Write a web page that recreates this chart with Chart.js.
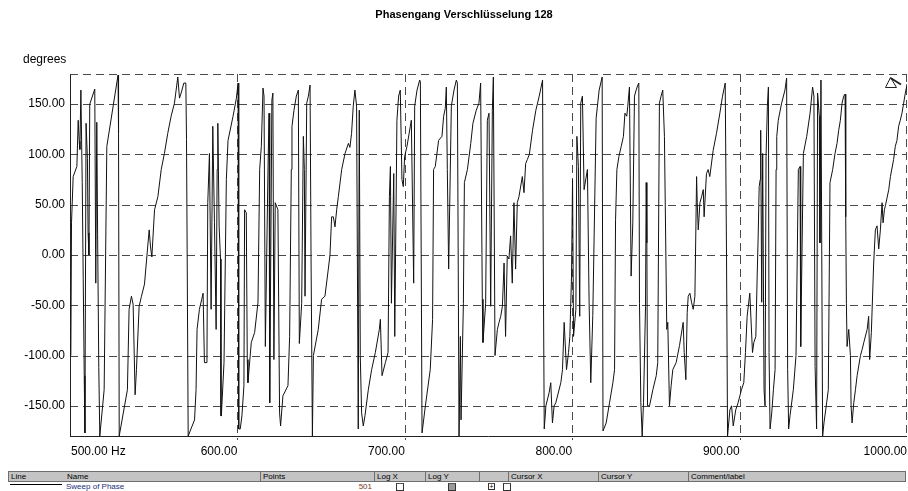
<!DOCTYPE html>
<html>
<head>
<meta charset="utf-8">
<script src="https://cdn.jsdelivr.net/npm/chart.js@4/dist/chart.umd.min.js"></script>
<style>
  html, body { margin: 0; padding: 0; background: #fff; }
  #wrap { position: relative; width: 908px; height: 491px; overflow: hidden; font-family: "Liberation Sans", Arial, sans-serif; }
  #chart { position: absolute; left: 0; top: 0; }
  .hd { position: absolute; top: 471px; height: 9px; background: #c4c4c4; border: 1px solid #6e6e6e; border-left-width: 0; font-size: 8px; line-height: 9px; color: #000; padding-left: 2px; box-sizing: content-box; }
  .row { position: absolute; font-size: 8px; line-height: 9px; }
  .cb { position: absolute; top: 483px; width: 6px; height: 6px; border: 1px solid #333; border-top-color: #555; background: #fff; }
</style>
</head>
<body>
<div id="wrap">
  <canvas id="chart" width="908" height="468"></canvas>
</div>
<script>
// Sweep of Phase: frequency (Hz) and phase (degrees), 500 to 1000 Hz
const freqHz = [
  500.5, 500.9, 501.9, 504.1, 504.9, 505.5, 505.9, 506.5, 507.3, 507.9, 508.5, 508.9, 509.6, 510.4, 510.8, 511.3,
  511.8, 514.8, 515.4, 516.0, 516.5, 517.2, 517.8, 520.4, 522.0, 528.7, 529.0, 529.4, 534.3, 535.3, 536.7, 537.7,
  538.9, 539.7, 541.3, 542.7, 544.5, 546.1, 547.3, 548.1, 548.9, 550.5, 552.5, 554.5, 556.4, 558.4, 560.4, 562.4,
  564.4, 565.4, 566.4, 568.0, 569.2, 569.6, 570.0, 570.6, 574.4, 575.3, 575.9, 577.3, 578.7, 579.5, 580.3, 581.8,
  582.3, 583.3, 584.3, 585.3, 586.3, 587.3, 587.9, 588.3, 589.1, 589.9, 590.2, 590.4, 592.0, 593.4, 594.4, 597.4,
  599.4, 600.4, 600.8, 601.7, 602.7, 603.9, 604.3, 605.3, 605.9, 606.3, 608.3, 610.3, 612.3, 613.3, 614.3, 615.3,
  615.9, 616.7, 618.3, 618.9, 619.3, 620.6, 621.2, 621.8, 622.6, 624.2, 625.2, 625.8, 627.2, 630.2, 631.2, 632.2,
  632.6, 633.8, 635.2, 636.4, 637.0, 638.4, 639.4, 640.0, 640.4, 641.4, 642.4, 643.4, 644.0, 644.8, 645.4, 648.3,
  650.3, 652.3, 654.3, 655.3, 656.3, 657.3, 658.3, 659.3, 660.3, 662.3, 664.3, 666.3, 667.2, 668.2, 669.2, 670.2,
  671.2, 672.2, 672.8, 673.4, 674.2, 675.2, 676.2, 678.2, 680.2, 682.4, 684.8, 685.4, 686.4, 688.4, 690.0, 690.8,
  691.4, 692.0, 693.4, 694.0, 695.3, 696.3, 697.3, 698.3, 699.1, 699.9, 701.3, 703.3, 703.9, 705.3, 705.9, 707.3,
  708.9, 709.3, 710.3, 712.3, 715.2, 716.6, 717.2, 718.2, 720.2, 722.2, 723.2, 724.2, 724.8, 725.4, 726.2, 727.8,
  728.4, 729.4, 730.8, 731.4, 732.4, 733.2, 733.6, 735.0, 735.6, 737.4, 739.4, 740.7, 742.7, 744.3, 745.3, 746.3,
  746.7, 748.3, 749.3, 750.3, 751.3, 752.3, 752.9, 753.9, 755.3, 756.3, 757.3, 758.3, 759.3, 760.2, 761.2, 762.2,
  763.2, 764.2, 765.2, 766.2, 767.2, 768.2, 770.2, 771.2, 772.2, 773.2, 774.4, 776.3, 778.3, 780.3, 782.3, 782.7,
  783.3, 784.3, 786.2, 787.2, 788.2, 789.2, 790.2, 793.2, 794.2, 795.2, 796.6, 797.8, 798.6, 799.6, 800.2, 800.8,
  802.2, 802.8, 803.7, 804.5, 805.1, 806.1, 807.1, 809.1, 810.1, 811.1, 812.3, 814.3, 816.1, 817.9, 818.4, 820.3,
  822.3, 824.3, 825.3, 825.9, 826.7, 827.9, 829.3, 830.6, 831.5, 832.6, 833.2, 834.2, 835.2, 836.2, 837.2, 838.2,
  839.2, 839.8, 840.2, 841.0, 841.8, 842.6, 843.8, 844.2, 844.6, 845.0, 846.2, 848.2, 850.2, 851.1, 852.1, 853.1,
  854.1, 855.1, 856.5, 857.1, 858.1, 859.1, 860.1, 862.1, 864.1, 866.3, 866.9, 867.9, 868.7, 869.3, 870.3, 871.3,
  872.3, 873.3, 873.9, 874.3, 874.7, 875.3, 876.3, 877.3, 878.3, 878.8, 880.2, 881.2, 882.2, 884.2, 886.2, 888.2,
  889.8, 891.4, 892.2, 892.8, 894.2, 895.2, 896.2, 897.7, 899.1, 901.1, 902.5, 903.5, 904.5, 906.1, 907.7, 908.5,
  909.7, 910.5, 911.1, 911.7, 912.3, 912.6, 913.2, 913.8, 914.6, 915.2, 915.8, 916.6, 917.2, 917.6, 918.2, 919.2,
  920.2, 921.2, 921.8, 922.2, 923.1, 925.1, 927.1, 928.1, 928.7, 929.3, 930.1, 932.1, 933.7, 935.1, 936.1, 936.5,
  938.1, 940.1, 942.1, 943.6, 944.4, 945.1, 946.0, 946.6, 947.6, 948.0, 948.6, 949.6, 950.4, 952.0, 953.0, 954.0,
  955.6, 957.0, 958.2, 959.2, 960.2, 961.2, 962.2, 963.0, 963.4, 963.8, 964.2, 965.2, 966.2, 966.6, 967.2, 968.2,
  969.2, 970.2, 972.2, 973.2, 974.2, 976.2, 977.1, 977.7, 978.7, 980.1, 981.1, 982.1, 983.1, 984.1, 985.1, 985.7,
  986.5, 987.1, 989.1, 990.1, 992.0, 993.0, 994.0, 995.0, 996.0, 997.0, 998.0, 999.0, 999.6, 1000.0
];
const phaseDeg = [
  -100, 32, 78, 88, 134, 113, 105, 164, 72, -24, -120, -177, 131, 96, 22, 0,
  150, 165, -28, 132, 20, -112, -180, -134, 108, 179, 121, -180, -134, -54, -41, -49,
  -139, -114, -51, -41, -29, 2, 25, 8, -2, 45, 58, 85, 101, 121, 138, 151,
  177, 156, 161, 171, 171, 115, -1, -180, -164, -134, -74, -54, -44, -38, -107, -107,
  52, 101, -54, 128, 32, -74, 85, 131, 28, -4, -160, -160, -107, 75, 114, 138,
  156, 171, -173, -173, -160, -130, 45, 42, -104, -127, -87, -77, -47, 85, 108, 166,
  158, -91, 88, 141, -147, 154, 161, -104, 52, 45, -157, -170, -140, -130, -81, 85,
  128, 144, 158, 164, -88, -48, 118, 85, -41, 151, 158, 169, -4, -180, -100, -74,
  -44, -41, -14, 0, 38, 38, 28, 45, 58, 85, 101, 111, 107, 121, 148, 164,
  148, -173, 144, -100, -157, -170, -160, -134, -114, -97, -74, -64, -120, -107, -97, 58,
  88, -48, 81, -81, 134, 158, 164, 75, 68, 98, 108, 128, 134, -28, 148, 164,
  174, 172, -177, -150, -114, -64, 85, 88, 114, 118, 138, 146, 167, 85, -14, 148,
  154, 164, 174, 171, -180, -81, -164, -48, 72, 85, 111, 131, 144, 151, 171, -44,
  -87, -48, 134, 141, -51, 144, 177, -100, -74, -67, -61, -51, -8, -81, -1, -4,
  19, -28, 52, -14, 52, 58, 78, 62, 91, 95, 100, 124, 144, 158, 174, 2,
  -173, -150, -137, -127, -167, -150, -147, -127, -114, -67, -114, -97, -81, -21, 75, -81,
  -54, 118, 88, -61, 151, 158, 65, 85, -47, -127, -60, 136, 164, 177, -175, -167,
  -147, -127, -114, 35, 85, 98, 108, 118, 141, 138, 148, 167, -21, 32, 158, 164,
  169, 171, -48, -147, -180, -147, -51, 72, 12, -150, -150, -134, -120, -107, 151, 158,
  164, 118, -74, -67, -150, -130, -114, -107, -90, -67, -97, -124, -57, -41, -38, -47,
  -54, -41, 29, 78, 52, 25, 52, 58, 65, 38, 81, 85, 78, 104, 121, 141,
  158, 171, -4, -180, -154, -150, -170, -154, -147, -134, -127, -97, -61, -38, -97, -87,
  -81, -21, 19, 68, 75, 124, -47, 101, -134, -150, 98, 148, 167, -97, -173, -157,
  -134, -114, 85, 118, 134, 151, 164, 176, -114, -173, -160, -134, -100, 85, 88, -91,
  101, 118, 141, 167, 158, -111, -173, 161, 138, 12, 174, -180, -167, -147, -134, 72,
  85, 101, 111, 124, 134, 151, 158, 160, 38, -48, -91, -74, -100, -150, -167, -147,
  -134, -120, -100, -94, -87, -74, -61, -104, -77, -8, 25, 29, 6, 25, 52, 32,
  45, 49, 65, 78, 95, 108, 114, 128, 134, 141, 151, 161, 166, 170
];
const yTicks = [-150, -100, -50, 0, 50, 100, 150];
const xTicks = [500, 600, 700, 800, 900, 1000];
const xTickLabels = ['500.00 Hz', '600.00', '700.00', '800.00', '900.00', '1000.00'];
const chartTitle = 'Phasengang Verschlüsselung 128';
const yAxisTitle = 'degrees';

const FONT = '"Liberation Sans", Arial, sans-serif';

// grid, frame, labels and the cursor marker
const framePlugin = {
  id: 'frame',
  beforeDatasetsDraw(chart) {
    const { ctx, chartArea: a, scales: { x, y } } = chart;
    ctx.save();
    ctx.lineWidth = 1;
    ctx.strokeStyle = '#4a4a4a';
    ctx.setLineDash([8, 5]);
    ctx.beginPath();
    yTicks.forEach(v => {
      const py = Math.round(y.getPixelForValue(v)) + 0.5;
      ctx.moveTo(a.left, py); ctx.lineTo(a.right, py);
    });
    xTicks.slice(1, -1).forEach(v => {
      const px = Math.round(x.getPixelForValue(v)) + 0.5;
      ctx.moveTo(px, a.top); ctx.lineTo(px, a.bottom + 4);
    });
    // dashed top and right edges
    ctx.moveTo(a.left, Math.round(a.top) + 0.5); ctx.lineTo(a.right, Math.round(a.top) + 0.5);
    ctx.moveTo(Math.round(a.right) - 0.5, a.top); ctx.lineTo(Math.round(a.right) - 0.5, a.bottom);
    ctx.stroke();
    ctx.setLineDash([]);
    // solid left and bottom axes
    ctx.strokeStyle = '#222';
    ctx.beginPath();
    ctx.moveTo(Math.round(a.left) + 0.5, a.top); ctx.lineTo(Math.round(a.left) + 0.5, a.bottom + 1);
    ctx.moveTo(a.left, Math.round(a.bottom) + 0.5); ctx.lineTo(a.right, Math.round(a.bottom) + 0.5);
    ctx.stroke();
    ctx.restore();
  },
  afterDraw(chart) {
    const { ctx, chartArea: a, scales: { x, y } } = chart;
    ctx.save();
    ctx.fillStyle = '#000';
    ctx.font = 'bold 11px ' + FONT;
    ctx.textAlign = 'center';
    ctx.textBaseline = 'middle';
    ctx.fillText(chartTitle, 464, 15);
    ctx.font = '12px ' + FONT;
    ctx.textAlign = 'left';
    ctx.fillText(yAxisTitle, 23, 60);
    ctx.textAlign = 'right';
    yTicks.forEach(v => ctx.fillText(v.toFixed(2), 65, y.getPixelForValue(v)));
    xTicks.forEach((v, i) => {
      ctx.textAlign = i === 0 ? 'left' : 'right';
      const px = x.getPixelForValue(v) + (i === 0 ? 1 : 0);
      ctx.fillText(xTickLabels[i], px, 452);
    });
    // cursor marker in the upper right corner
    const tx = a.right - 17, ty = a.top + 3;
    ctx.strokeStyle = '#222';
    ctx.lineWidth = 1;
    ctx.beginPath();
    ctx.moveTo(tx - 4.5, ty + 10.5); ctx.lineTo(tx + 0.5, ty + 0.5); ctx.lineTo(tx + 6.5, ty + 10.5); ctx.closePath();
    ctx.stroke();
    ctx.lineWidth = 2;
    ctx.beginPath();
    ctx.moveTo(tx + 0.5, ty + 1); ctx.lineTo(tx + 11, ty + 7.5);
    ctx.stroke();
    ctx.restore();
  }
};

new Chart(document.getElementById('chart'), {
  type: 'line',
  data: {
    datasets: [{
      label: 'Sweep of Phase',
      data: freqHz.map((f, i) => ({ x: f, y: phaseDeg[i] })),
      borderColor: '#111',
      borderWidth: 1,
      pointRadius: 0,
      tension: 0,
      fill: false
    }]
  },
  options: {
    responsive: false,
    animation: false,
    events: [],
    layout: { padding: { left: 70, top: 74, right: 1, bottom: 32 } },
    plugins: { legend: { display: false }, tooltip: { enabled: false }, title: { display: false } },
    scales: {
      x: {
        type: 'linear', min: 500, max: 1000,
        grid: { display: false }, border: { display: false },
        ticks: { display: false },
        afterFit: s => { s.height = 0; }
      },
      y: {
        min: -180, max: 180,
        grid: { display: false }, border: { display: false },
        ticks: { display: false },
        afterFit: s => { s.width = 0; }
      }
    }
  },
  plugins: [framePlugin]
});

// legend table under the plot
const cols = [
  ['Line', 8, 57], ['Name', 65, 196], ['Points', 261, 114], ['Log X', 375, 51], ['Log Y', 426, 54],
  ['', 480, 29], ['Cursor X', 509, 90], ['Cursor Y', 599, 90], ['Comment/label', 689, 217]
];
const wrap = document.getElementById('wrap');
cols.forEach(([t, l, w], i) => {
  const d = document.createElement('div');
  d.className = 'hd';
  d.style.left = l + 'px';
  d.style.width = (w - 3) + 'px';
  if (i === 0) d.style.borderLeftWidth = '1px';
  d.textContent = t;
  wrap.appendChild(d);
});
const add = (html, css) => { const d = document.createElement('div'); d.className = 'row'; d.innerHTML = html; Object.assign(d.style, css); wrap.appendChild(d); return d; };
add('', { left: '10px', top: '484px', width: '52px', height: '0', borderTop: '1px solid #000' });
add('Sweep of Phase', { left: '66px', top: '482px', color: '#1c2f7a' });
add('501', { left: '340px', top: '482px', width: '32px', textAlign: 'right', color: '#7a3a1a' });
[[396, '#fff'], [448, '#9a9a9a'], [503, '#fff']].forEach(([l, bg]) => {
  const c = document.createElement('div'); c.className = 'cb'; c.style.left = l + 'px'; c.style.background = bg; wrap.appendChild(c);
});
const plus = document.createElement('div');
plus.className = 'cb';
plus.style.cssText += 'left:488px;width:5px;height:5px;font-size:7px;line-height:5px;text-align:center;color:#000;';
plus.textContent = '+';
wrap.appendChild(plus);
</script>
</body>
</html>
